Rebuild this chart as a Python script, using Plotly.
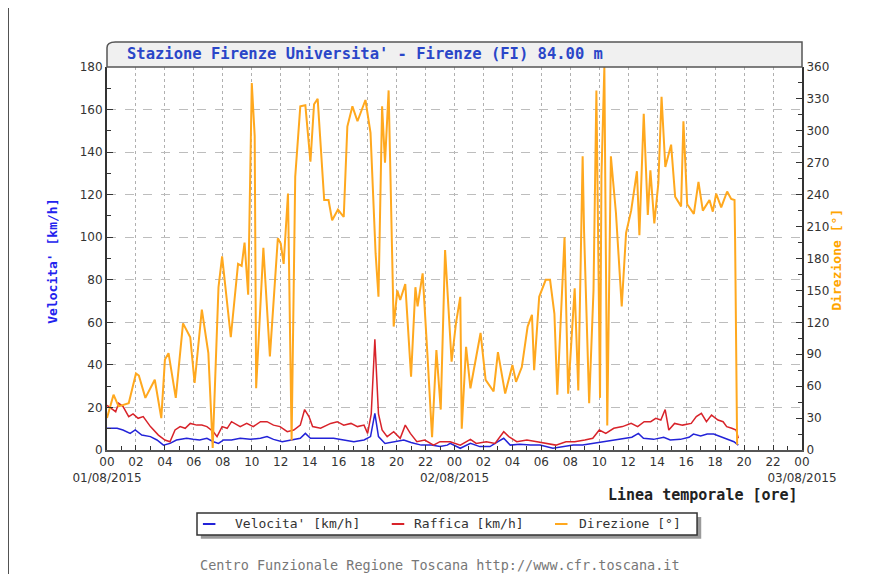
import pandas as pd
import plotly.graph_objects as go

# ore trascorse dalle 00:00 del 01/08/2015
vel_ore = [0.0, 0.7, 1.1, 1.6, 1.95, 2.4, 3.0, 3.45, 3.9, 4.35, 4.8, 5.5, 5.95, 6.4, 6.9, 7.35, 7.7,
           8.05, 8.6, 9.2, 9.9, 10.6, 11.05, 11.5, 12.1, 12.75, 13.35, 13.7, 14.05, 14.95, 15.65,
           16.35, 17.05, 17.75, 18.2, 18.5, 18.75, 19.2, 19.8, 20.5, 21.0, 21.7, 22.4, 23.0, 23.5,
           23.7, 24.4, 25.1, 25.75, 26.45, 27.0, 27.4, 27.85, 28.5, 29.25, 29.9, 30.8, 31.5, 32.2,
           32.85, 33.55, 34.25, 34.95, 35.65, 36.25, 36.7, 37.05, 37.75, 38.45, 38.9, 39.6, 40.2,
           40.5, 41.0, 41.45, 41.9, 42.35, 42.8, 43.3, 43.6]
vel_kmh = [10.2, 10.2, 9.4, 7.8, 9.4, 7.0, 6.3, 4.7, 2.3, 3.1, 4.7, 5.5, 5.0, 4.7, 5.5, 3.9, 3.1,
           4.7, 4.7, 5.5, 5.0, 5.5, 6.3, 5.0, 3.9, 4.7, 5.5, 7.8, 5.5, 5.5, 5.5,
           4.7, 3.9, 4.7, 6.3, 17.2, 6.3, 3.1, 3.9, 4.7, 3.5, 2.3, 2.3, 1.6, 2.3,
           3.1, 0.8, 3.1, 1.6, 1.6, 3.9, 5.5, 2.3, 2.7, 2.3, 2.3, 0.8, 1.6, 2.3,
           2.3, 3.1, 3.9, 4.7, 5.5, 6.0, 7.8, 5.5, 5.0, 6.0, 4.7, 5.0, 6.0,
           7.5, 6.6, 7.5, 7.5, 6.3, 5.0, 3.9, 2.3]

raf_ore = [0.0, 0.6, 0.8, 1.1, 1.5, 1.8, 2.15, 2.5, 3.0, 3.55, 4.0, 4.35, 4.7, 5.05, 5.4, 5.75,
           6.2, 6.55, 6.9, 7.35, 7.6, 7.95, 8.3, 8.6, 9.2, 9.65, 10.1, 10.6, 11.05, 11.5, 11.95,
           12.45, 12.9, 13.35, 13.65, 13.95, 14.2, 14.75, 15.45, 15.9, 16.35, 16.85, 17.3, 17.75,
           18.0, 18.25, 18.5, 18.75, 19.0, 19.35, 19.8, 20.25, 20.6, 20.95, 21.4, 21.95, 22.55,
           23.0, 23.7, 24.4, 25.1, 25.5, 26.2, 26.8, 27.4, 27.75, 28.3, 29.0, 29.7, 30.4, 31.0,
           31.7, 32.3, 33.0, 33.55, 34.0, 34.45, 35.0, 35.6, 36.2, 36.65, 37.1, 37.55, 37.9,
           38.25, 38.55, 38.8, 39.2, 39.75, 40.35, 40.7, 41.05, 41.4, 41.75, 42.2, 42.55, 42.8,
           43.15, 43.45, 43.6]
raf_kmh = [21.0, 18.0, 22.0, 20.5, 15.7, 17.0, 14.9, 15.7, 11.0, 7.0, 4.7, 3.9, 9.4, 11.0, 10.2, 12.5,
           11.7, 11.7, 11.0, 8.6, 6.3, 11.0, 10.2, 13.3, 11.0, 12.5, 11.0, 13.3, 13.3, 11.7, 11.0,
           8.6, 9.4, 11.7, 19.0, 15.7, 11.0, 10.2, 12.5, 13.3, 11.7, 12.5, 11.0, 11.7,
           7.8, 17.0, 52.0, 17.0, 9.4, 6.3, 8.6, 5.5, 11.7, 7.8, 3.9, 4.7, 2.3,
           3.9, 3.9, 2.3, 5.0, 3.1, 3.9, 3.1, 8.6, 6.3, 3.9, 4.7, 3.9, 3.1, 2.3,
           3.9, 3.9, 4.7, 5.5, 9.4, 7.8, 10.2, 11.0, 12.5, 11.0, 13.3, 13.3, 14.9,
           14.1, 19.0, 9.4, 12.5, 11.7, 12.5, 15.7, 17.2, 13.3, 16.4, 14.1, 13.3, 11.0,
           10.2, 9.4, 5.5]

dir_ore = [0.0, 0.45, 0.8, 1.5, 2.0, 2.2, 2.65, 3.3, 3.75, 4.0, 4.25, 4.75, 5.25, 5.75, 6.05, 6.55,
           7.0, 7.3, 7.7, 7.95, 8.55, 9.05, 9.3, 9.5, 9.75, 9.9, 10.0, 10.2, 10.3, 10.8, 11.25,
           11.8, 12.0, 12.2, 12.5, 12.75, 13.0, 13.35, 13.7, 14.05, 14.3, 14.55, 15.0, 15.3,
           15.55, 15.95, 16.35, 16.6, 16.95, 17.3, 17.85, 18.2, 18.55, 18.75, 19.0, 19.2, 19.35,
           19.45, 19.8, 20.05, 20.25, 20.6, 21.0, 21.3, 21.45, 21.8, 22.15, 22.45, 22.75, 23.05,
           23.35, 23.8, 24.1, 24.4, 24.5, 24.8, 25.1, 25.8, 26.15, 26.7, 27.0, 27.5, 28.0, 28.25,
           28.65, 29.05, 29.35, 29.5, 29.85, 30.3, 30.6, 30.9, 31.1, 31.45, 31.6, 31.85, 32.05,
           32.3, 32.55, 32.85, 32.95, 33.3, 33.6, 33.8, 34.05, 34.15, 34.35, 34.55, 34.8, 35.15,
           35.55, 35.85, 36.2, 36.5, 36.6, 36.77, 37.07, 37.35, 37.53, 37.8, 38.08, 38.3, 38.56,
           38.96, 39.24, 39.65, 39.81, 40.07, 40.53, 40.85, 41.15, 41.61, 41.84, 42.07, 42.42,
           42.83, 43.11, 43.34, 43.38, 43.52]
dir_gradi = [30, 52, 41, 44, 72, 70, 49, 66, 30, 85, 91, 49, 119, 106, 63, 132,
             91, 2, 153, 182, 106, 175, 173, 195, 146, 269, 345, 295, 58, 190, 88,
             199, 194, 175, 241, 9, 257, 323, 324, 271, 325, 330, 235, 235,
             216, 226, 219, 304, 323, 309, 329, 298, 185, 144, 323, 270, 310,
             338, 116, 150, 141, 156, 69, 153, 135, 166, 85, 12, 94, 38,
             188, 83, 119, 144, 20, 97, 58, 110, 66, 55, 92, 53, 80, 64,
             78, 116, 127, 75, 144, 160, 160, 128, 52, 153, 200, 53, 97,
             152, 56, 276, 205, 44, 150, 338, 49, 258, 360, 23, 276, 223,
             135, 204, 225, 255, 262, 202, 316, 221, 263, 213, 251, 332, 266,
             287, 238, 229, 309, 231, 222, 252, 225, 235, 224, 241, 228,
             243, 236, 235, 197, 5]

inizio = pd.Timestamp("2015-08-01 00:00")


def tempi(ore):
    return inizio + pd.to_timedelta(ore, unit="h")


tick_tempi = pd.date_range("2015-08-01 00:00", "2015-08-03 00:00", freq="2h")
tick_testi = [t.strftime("%H") + ("<br>" + t.strftime("%d/%m/%Y") if t.hour == 0 else "")
              for t in tick_tempi]

BLU = "#2323d8"
ROSSO = "#d8232a"
ARANCIO = "#ffa81e"
MONO = "DejaVu Sans Mono"

fig = go.Figure()
fig.add_trace(go.Scatter(x=tempi(vel_ore), y=vel_kmh, mode="lines", name="Velocita' [km/h]",
                         line=dict(color=BLU, width=1.5), showlegend=False))
fig.add_trace(go.Scatter(x=tempi(raf_ore), y=raf_kmh, mode="lines", name="Raffica [km/h]",
                         line=dict(color=ROSSO, width=1.5), showlegend=False))
fig.add_trace(go.Scatter(x=tempi(dir_ore), y=dir_gradi, mode="lines", name="Direzione [°]",
                         line=dict(color=ARANCIO, width=2), yaxis="y2", showlegend=False))

# la pagina ha 8px di margine sul body: i margini lo compensano
fig.update_layout(
    width=877, height=574,
    margin=dict(l=99, r=83, t=59, b=132, autoexpand=False),
    paper_bgcolor="white", plot_bgcolor="white",
    font=dict(family="DejaVu Sans", size=12, color="#333"),
    xaxis=dict(
        range=[inizio, inizio + pd.Timedelta(hours=48)],
        tickmode="array", tickvals=tick_tempi, ticktext=tick_testi, tickangle=0,
        ticks="inside", ticklen=5, tickcolor="#333",
        showgrid=True, gridcolor="#b0b0b0", griddash="dot", gridwidth=1,
        minor=dict(dtick=3600000, ticks="inside", ticklen=4, tickcolor="#333", showgrid=False),
        showline=True, linecolor="#555", linewidth=2, zeroline=False, automargin=False,
    ),
    yaxis=dict(
        range=[0, 180], dtick=20, ticks="inside", ticklen=6, tickcolor="#333",
        showgrid=True, gridcolor="#bdbdbd", griddash="dash", gridwidth=1,
        minor=dict(dtick=10, ticks="inside", ticklen=4, tickcolor="#333", showgrid=False),
        showline=True, linecolor="#333", linewidth=2, zeroline=False, automargin=False,
    ),
    yaxis2=dict(
        range=[0, 360], dtick=30, overlaying="y", side="right",
        ticks="inside", ticklen=6, tickcolor="#333", showgrid=False,
        minor=dict(dtick=15, ticks="inside", ticklen=4, tickcolor="#333", showgrid=False),
        showline=True, linecolor="#333", linewidth=2, zeroline=False, automargin=False,
    ),
)

# riquadro del titolo con angolo arrotondato
fig.add_shape(type="path", xref="paper", yref="paper",
              path="M 0,1 L 0,1.05 Q 0,1.0653 0.012,1.0653 L 1,1.0653 L 1,1 Z",
              fillcolor="#f0f0f0", line=dict(color="#555", width=1.5))
fig.add_annotation(text="<b>Stazione Firenze Universita' - Firenze (FI) 84.00 m</b>",
                   x=0.026, y=1.033, xref="paper", yref="paper", xanchor="left", yanchor="middle",
                   showarrow=False, font=dict(family=MONO, size=15.5, color="#2a46c8"))

# titoli degli assi
fig.add_annotation(text="<b>Velocita' [km/h]</b>", x=-0.092, y=0.493, xref="paper", yref="paper",
                   textangle=-90, showarrow=False, font=dict(family=MONO, size=13, color="#2222ee"))
fig.add_annotation(text="<b>Direzione [°]</b>", x=1.062, y=0.496, xref="paper", yref="paper",
                   textangle=-90, showarrow=False, font=dict(family=MONO, size=13, color="#ffa500"))
fig.add_annotation(text="<b>Linea temporale [ore]</b>", x=0.997, y=-0.1175, xref="paper",
                   yref="paper", xanchor="right", yanchor="middle", showarrow=False,
                   font=dict(family=MONO, size=15, color="#222"))

# legenda con ombra
fig.add_shape(type="rect", xref="paper", yref="paper", x0=0.135, x1=0.855, y0=-0.232, y1=-0.175,
              fillcolor="#9a9a9a", line=dict(width=0))
fig.add_shape(type="rect", xref="paper", yref="paper", x0=0.1295, x1=0.849, y0=-0.222, y1=-0.1645,
              fillcolor="white", line=dict(color="#333", width=1.5))
voci = [("Velocita' [km/h]", BLU, 0.138, 0.181),
        ("Raffica [km/h]", ROSSO, 0.4097, 0.4384),
        ("Direzione [°]", ARANCIO, 0.6446, 0.6758)]
for testo, colore, x_linea, x_testo in voci:
    fig.add_shape(type="line", xref="paper", yref="paper", x0=x_linea, x1=x_linea + 0.018,
                  y0=-0.1932, y1=-0.1932, line=dict(color=colore, width=2))
    fig.add_annotation(text=testo, x=x_testo, y=-0.1932, xref="paper", yref="paper",
                       xanchor="left", yanchor="middle", showarrow=False,
                       font=dict(family=MONO, size=13, color="#333"))

fig.add_annotation(text="Centro Funzionale Regione Toscana http://www.cfr.toscana.it",
                   x=0.479, y=-0.3265, xref="paper", yref="paper", showarrow=False,
                   font=dict(family=MONO, size=13.5, color="#777"))

# cornice esterna
fig.add_shape(type="line", xref="paper", yref="paper", x0=-0.1424, x1=-0.1424, y0=-0.34, y1=1.16,
              line=dict(color="#222", width=1.5))

fig.write_html("out.html")
